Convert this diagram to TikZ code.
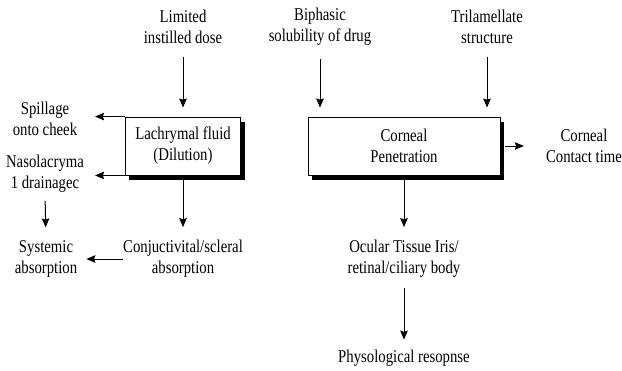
\documentclass[tikz,border=0pt]{standalone}
\usepackage{fontspec}
\setmainfont[FakeStretch=0.82]{Liberation Serif}
\usepackage{tikz}
\usetikzlibrary{arrows.meta,backgrounds,positioning}
\tikzstyle{block} = [rectangle, draw, fill=white, align=center, line width=0.9pt, minimum height=58pt]
\tikzstyle{shade} = [fill=black]
\tikzstyle{txt} = [align=center, inner sep=0pt, font=\fontsize{18}{21}\selectfont]
\tikzstyle{line} = [draw, -{Stealth[length=9pt,width=7.5pt,inset=1.2pt]}, line width=1pt]

\begin{document}
\begin{tikzpicture}[x=1pt, y=-1pt]
    \useasboundingbox (0,0) rectangle (622,370);

    % Nodes
    \node [block, txt, minimum width=115pt] (lachrymal) at (183,146) {Lachrymal fluid\\(Dilution)};
    \node [block, txt, minimum width=192pt] (corneal) at (404,146) {Corneal\\Penetration};
    \node [txt, above of=lachrymal, node distance=119pt] (limited) {Limited\\instilled dose};
    \node [txt, below of=lachrymal, node distance=113pt] (conjunctival) {Conjuctivital/scleral\\absorption};
    \node [txt, left of=lachrymal, node distance=138pt, yshift=27pt] (spillage) {Spillage\\onto cheek};
    \node [txt, left of=lachrymal, node distance=138pt, yshift=-28pt] (nasolacrymal) {Nasolacryma\\1 drainagec};
    \node [txt, left of=conjunctival, node distance=137pt] (systemic) {Systemic\\absorption};
    \node [txt, above of=corneal, node distance=119pt, xshift=-84pt] (biphasic) {Biphasic\\solubility of drug};
    \node [txt, above of=corneal, node distance=119pt, xshift=83pt] (trilamellate) {Trilamellate\\structure};
    \node [txt, right of=corneal, node distance=180pt] (contact) {Corneal\\Contact time};
    \node [txt, below of=corneal, node distance=113pt] (ocular) {Ocular Tissue Iris/\\retinal/ciliary body};
    \node [txt, below of=ocular, node distance=99pt] (physiological) {Physological resopnse};

    % shadows behind the boxes
    \begin{scope}[on background layer]
    \fill [shade] ([xshift=4pt,yshift=-5pt]lachrymal.south west) rectangle ([xshift=4pt,yshift=-5pt]lachrymal.north east);
    \fill [shade] ([xshift=4pt,yshift=-5pt]corneal.south west) rectangle ([xshift=4pt,yshift=-5pt]corneal.north east);
    \end{scope}

    % arrows
    \path [line, shorten <=13pt, shorten >=9pt] (limited.south) -- (limited.south |- lachrymal.north);
    \path [line, shorten <=13pt, shorten >=9pt] (biphasic.south) -- (biphasic.south |- corneal.north);
    \path [line, shorten <=13pt, shorten >=9pt] (trilamellate.south) -- (trilamellate.south |- corneal.north);
    \path [line] (lachrymal.north west) -- ++(-30,0);
    \path [line] (lachrymal.south west) -- ++(-30,0);
    \path [line, shorten <=8pt, shorten >=13pt] (nasolacrymal.south) -- (systemic.north);
    \path [line, shorten <=4pt, shorten >=13pt] (conjunctival.north |- lachrymal.south) -- (conjunctival.north);
    \path [line, shorten >=9pt] (conjunctival.west) -- (systemic.east);
    \path [line, shorten <=4.5pt, shorten >=22pt] (corneal.east) -- (contact.west);
    \path [line, shorten <=4pt, shorten >=13pt] (corneal.south) -- (ocular.north);
    \path [line, shorten <=10pt, shorten >=10pt] (ocular.south) -- (physiological.north);

\end{tikzpicture}
\end{document}
